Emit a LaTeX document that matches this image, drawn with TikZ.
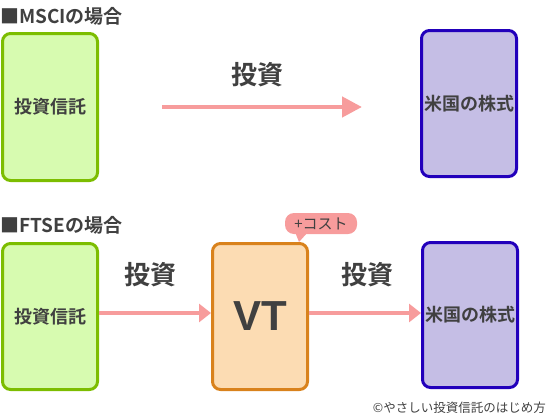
\documentclass[tikz,border=0pt]{standalone}
\usepackage{fontspec}
\setmainfont{Noto Sans CJK JP}
\newfontfamily\jpb{Noto Sans CJK JP}[BoldFont={* Bold}]
\usetikzlibrary{arrows.meta}
\definecolor{txt}{HTML}{404040}
\definecolor{gfill}{HTML}{D7FBB0}
\definecolor{gline}{HTML}{7CBD00}
\definecolor{ofill}{HTML}{FCDCB3}
\definecolor{oline}{HTML}{D9821C}
\definecolor{pfill}{HTML}{C5BEE5}
\definecolor{pline}{HTML}{2200BB}
\definecolor{pink}{HTML}{F79C9C}
\tikzset{
  card/.style={draw, line width=3pt, rounded corners=8pt, minimum width=95pt, minimum height=146pt, inner sep=0pt, text=txt, font=\jpb\bfseries\fontsize{18}{21}\selectfont},
  greencard/.style={card, fill=gfill, draw=gline},
  orangecard/.style={card, fill=ofill, draw=oline},
  purplecard/.style={card, fill=pfill, draw=pline},
  flow/.style={draw=pink, line width=4.5pt},
  bigtip/.style={-{Triangle[length=20pt,width=20pt]}},
  smalltip/.style={-{Triangle[length=12pt,width=18pt]}},
  lbl/.style={text=txt, font=\jpb\bfseries\fontsize{26}{30}\selectfont, inner sep=0pt},
  title/.style={text=txt, font=\jpb\bfseries\fontsize{19}{22}\selectfont, inner sep=0pt, anchor=west},
}
\begin{document}
\begin{tikzpicture}[x=1pt,y=-1pt]
\useasboundingbox (0,0) rectangle (548,415);
% titles
\node[title] (t1) at (0,16) {■MSCIの場合};
\node[title] (t2) at (0,225) {■FTSEの場合};
% top row
\node[greencard, minimum height=147pt] (tl) at (50,107) {投資信託};
\node[purplecard, minimum height=146pt] (tr) at (469,103.5) {米国の株式};
\coordinate (a1s) at (162,107);
\coordinate (a1e) at (362,107);
\draw[flow, bigtip] (a1s) -- (a1e);
\node[lbl] (l1) at (257,75) {投資};
% bottom row
\node[greencard] (bl) at (50,316.5) {投資信託};
\node[orangecard, font=\fontspec{Liberation Sans}\bfseries\fontsize{42}{46}\selectfont] (vt) at (260,316.5) {VT};
\node[purplecard, minimum height=145pt] (br) at (470,315) {米国の株式};
\draw[flow, smalltip] ([yshift=3.5pt]bl.east) -- ([yshift=3.5pt]vt.west);
\draw[flow, smalltip] ([yshift=3.5pt]vt.east) -- ([yshift=2pt]br.west);
\node[lbl] (l2) at (150,275) {投資};
\node[lbl] (l3) at (367,275) {投資};
% callout
\fill[pink] (295,232) -- (308,232) -- (299,242) -- cycle;
\node[fill=pink, rounded corners=9pt, minimum width=72pt, minimum height=21pt, inner sep=0pt, text=txt, font=\jpb\fontsize{15}{17}\selectfont] (cost) at (321,223.5) {+コスト};
% copyright
\node[anchor=east, text=txt, inner sep=0pt, font=\jpb\fontsize{12.5}{14}\selectfont] (copy) at (546,408) {©やさしい投資信託のはじめ方};
\end{tikzpicture}
\end{document}
